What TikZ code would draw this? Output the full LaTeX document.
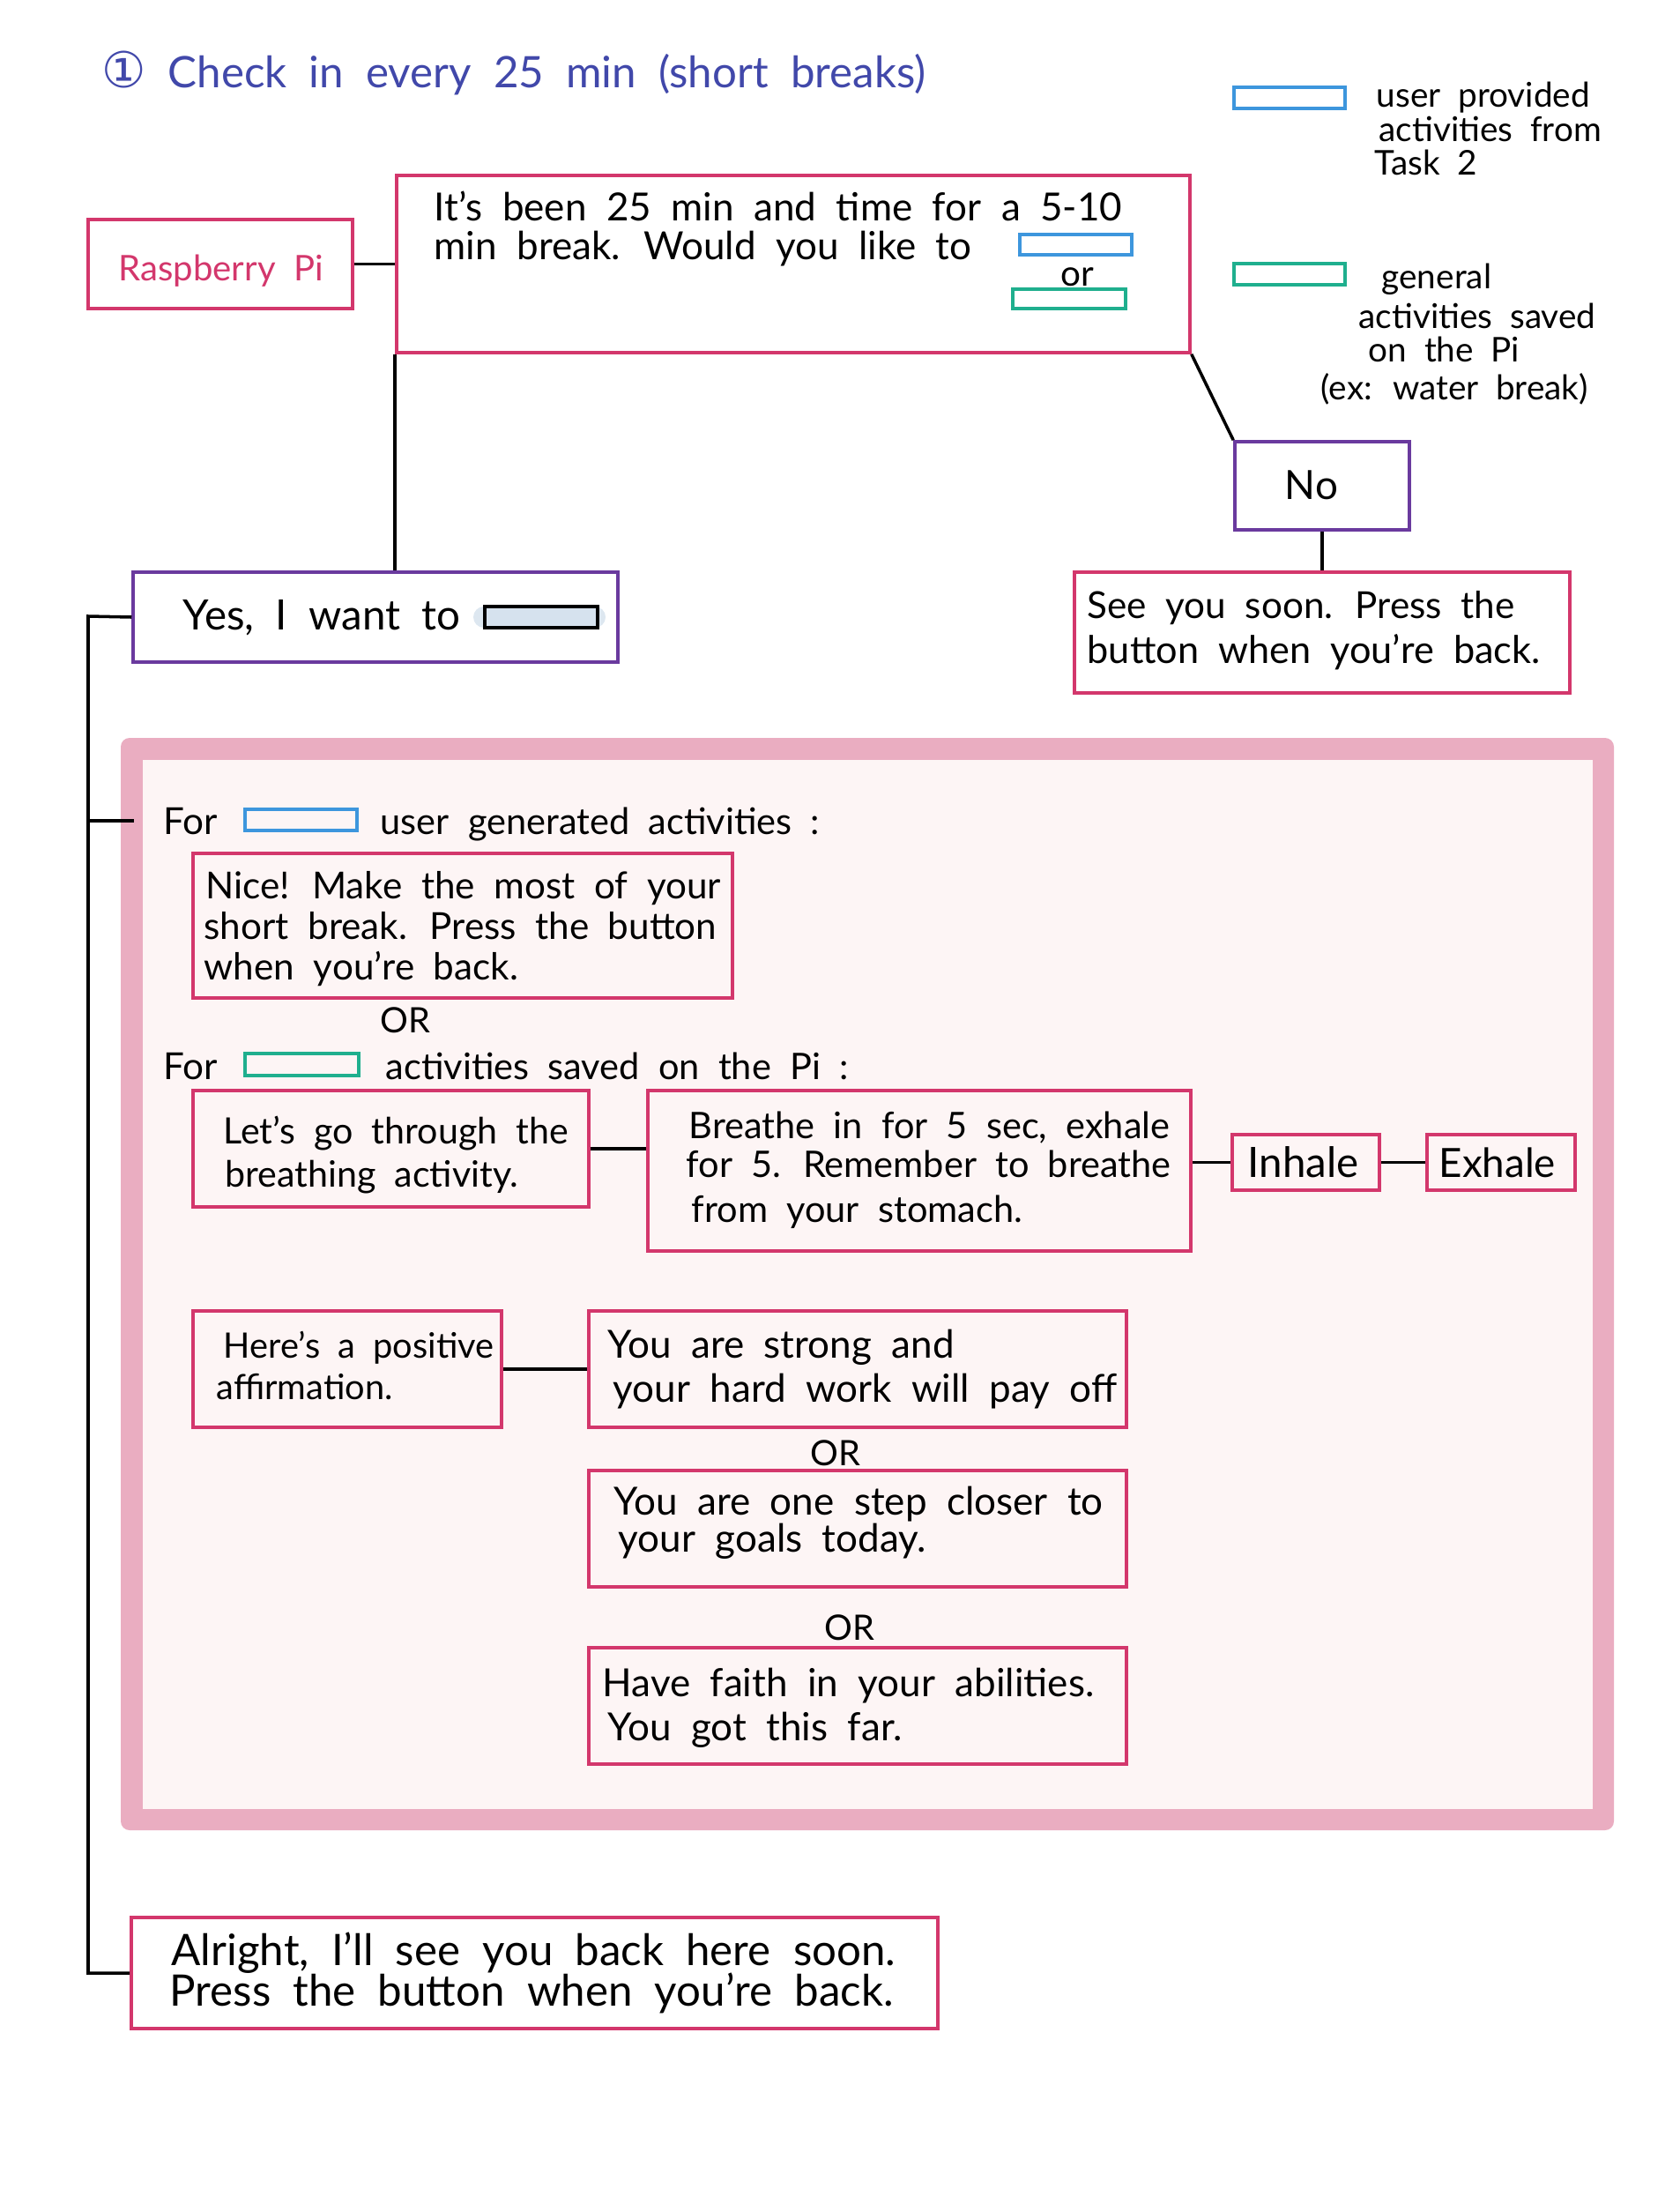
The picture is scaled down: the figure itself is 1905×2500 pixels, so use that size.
\documentclass[tikz,border=0pt]{standalone}
\usepackage{fontspec}
\setmainfont{Lato}[WordSpace=2]
\newfontfamily\symfont{DejaVu Sans}
\usetikzlibrary{fit}

\definecolor{boxpink}{HTML}{D3376C}
\definecolor{boxpurple}{HTML}{6A3A9E}
\definecolor{keyblue}{HTML}{3D96DD}
\definecolor{keyteal}{HTML}{1FAF8E}
\definecolor{titleblue}{HTML}{4148AA}
\definecolor{panelpink}{HTML}{EAADC1}
\definecolor{panelfill}{HTML}{FDF5F5}
\definecolor{slotfill}{HTML}{D6E2EE}
\definecolor{slothalo}{HTML}{DDE7F0}

\begin{document}
\begin{tikzpicture}[x=0.01cm, y=-0.01cm,
  frame/.style={inner sep=0pt, line width=1pt},
  pinkbox/.style={frame, draw=boxpink},
  purplebox/.style={frame, draw=boxpurple},
  keyslot/.style={inner sep=0pt, line width=1pt},
  link/.style={line width=1pt, draw=black},
  sz/.style={font=\fontsize{#1}{#1}\selectfont},
  txt/.style={anchor=mid west, inner sep=0pt, yshift=-0.07cm, sz=12.5},
  keytxt/.style={txt, sz=11},
  bigtxt/.style={txt, sz=14},
]
\useasboundingbox (0,0) rectangle (1905,2500);

% heading
\node[txt, text=titleblue, sz=14] (title) at (115,84)
  {{\symfont\fontsize{16}{16}\selectfont ①}\enspace Check in every 25 min (short breaks)};

% legend
\node[keyslot, draw=keyblue, fit={(1400,99) (1526,123)}] (keyblue) {};
\node[keytxt] (kb1) at (1561,106) {user provided};
\node[keytxt] (kb2) at (1564,145) {activities from};
\node[keytxt] (kb3) at (1559,183) {Task 2};
\node[keyslot, draw=keyteal, fit={(1400,299) (1526,323)}] (keyteal) {};
\node[keytxt] (kt1) at (1567,312) {general};
\node[keytxt] (kt2) at (1541,357) {activities saved};
\node[keytxt] (kt3) at (1552,395) {on the Pi};
\node[keytxt] (kt4) at (1498,438) {(ex: water break)};

% device and prompt
\node[pinkbox, fit={(100,249) (400,350)}] (rpi) {};
\node[txt, sz=11.4, text=boxpink] (rpitxt) at (134,303) {Raspberry Pi};
\node[pinkbox, fit={(450,199) (1350,400)}] (ask) {};
\node[txt] (ask1) at (492,235) {It’s been 25 min and time for a 5-10};
\node[txt] (ask2) at (492,279) {min break. Would you like to};
\node[keyslot, draw=keyblue, fit={(1157,266) (1284,289)}] (askblue) {};
\node[txt, sz=11.5] (askor) at (1203,309) {or};
\node[keyslot, draw=keyteal, fit={(1149,328) (1277,350)}] (askteal) {};

% "no" branch
\node[purplebox, fit={(1401,501) (1599,601)}] (no) {};
\node[txt, anchor=mid, sz=13] (notxt) at (1488,551) {No};
\node[pinkbox, fit={(1219,649) (1781,786)}] (soon) {};
\node[txt, sz=12] (soon1) at (1233,686) {See you soon. Press the};
\node[txt, sz=12.3] (soon2) at (1233,737) {button when you’re back.};

% "yes" branch
\node[purplebox, fit={(151,649) (701,751)}] (yes) {};
\node[bigtxt, sz=13.5] (yestxt) at (207,699) {Yes, I want to};
\node[inner sep=0pt, fill=slothalo, rounded corners=0.12cm, fit={(537,688) (687,712)}] (halo) {};
\node[inner sep=0pt, fill=slotfill, draw=black, line width=1pt, fit={(550,688) (678,712)}] (slot) {};

% activity panel
\node[inner sep=0pt, fill=panelpink, rounded corners=0.1cm, fit={(137,837) (1831,2076)}] (panel) {};
\node[inner sep=0pt, fill=panelfill, fit={(162,862) (1807,2052)}] (panelin) {};

\node[txt, sz=12] (forA) at (185,931) {For};
\node[keyslot, draw=keyblue, fit={(278,918) (405,942)}] (forAkey) {};
\node[txt, sz=11.8] (forAtxt) at (431,931) {user generated activities :};

\node[pinkbox, fit={(219,968) (831,1132)}] (nice) {};
\node[txt, sz=12] (nice1) at (233,1004) {Nice! Make the most of your};
\node[txt, sz=12] (nice2) at (231,1050) {short break. Press the button};
\node[txt, sz=12] (nice3) at (231,1096) {when you’re back.};
\node[txt, anchor=mid, sz=11.3] (or1) at (460,1156) {OR};

\node[txt, sz=12] (forB) at (185,1209) {For};
\node[keyslot, draw=keyteal, fit={(278,1195) (407,1220)}] (forBkey) {};
\node[txt, sz=11.8] (forBtxt) at (437,1209) {activities saved on the Pi :};

\node[pinkbox, fit={(219,1237) (668,1369)}] (lets) {};
\node[txt, sz=11.7] (lets1) at (253,1282) {Let’s go through the};
\node[txt, sz=11.7] (lets2) at (255,1331) {breathing activity.};

\node[pinkbox, fit={(735,1237) (1351,1419)}] (breathe) {};
\node[txt, sz=11.8] (br1) at (781,1276) {Breathe in for 5 sec, exhale};
\node[txt, sz=11.8] (br2) at (778,1320) {for 5. Remember to breathe};
\node[txt, sz=11.8] (br3) at (784,1371) {from your stomach.};

\node[pinkbox, fit={(1398,1287) (1565,1350)}] (inhale) {};
\node[txt, sz=13.5] (inhtxt) at (1415,1320) {Inhale};
\node[pinkbox, fit={(1619,1287) (1787,1350)}] (exhale) {};
\node[txt, sz=13] (exhtxt) at (1632,1320) {Exhale};

\node[pinkbox, fit={(219,1487) (569,1619)}] (heres) {};
\node[txt, sz=11.3] (he1) at (253,1525) {Here’s a positive};
\node[txt, sz=11.3] (he2) at (245,1572) {affirmation.};

\node[pinkbox, fit={(668,1487) (1278,1619)}] (strong) {};
\node[txt] (st1) at (689,1525) {You are strong and};
\node[txt] (st2) at (695,1575) {your hard work will pay off};
\node[txt, anchor=mid, sz=11.3] (or2) at (948,1647) {OR};

\node[pinkbox, fit={(668,1668) (1278,1800)}] (closer) {};
\node[txt] (cl1) at (696,1703) {You are one step closer to};
\node[txt] (cl2) at (701,1745) {your goals today.};
\node[txt, anchor=mid, sz=11.3] (or3) at (964,1845) {OR};

\node[pinkbox, fit={(668,1869) (1278,2001)}] (faith) {};
\node[txt] (fa1) at (683,1909) {Have faith in your abilities.};
\node[txt] (fa2) at (689,1959) {You got this far.};

% closing message
\node[pinkbox, fit={(149,2175) (1064,2301)}] (alright) {};
\node[bigtxt] (al1) at (194,2214) {Alright, I’ll see you back here soon.};
\node[bigtxt] (al2) at (192,2260) {Press the button when you’re back.};

% connectors
\coordinate (trunk) at (100,699);
\coordinate (stubend) at (152,931);
\draw[link] (rpi.east) -- (rpi.east -| ask.west);
\draw[link] (ask.south west) -- (ask.south west |- yes.north);
\draw[link] (ask.south east) -- (no.north west);
\draw[link] (no.south) -- (no.south |- soon.north);
\draw[link] (yes.west) -- (trunk) |- (alright.west);
\draw[link] (trunk |- stubend) -- (stubend);
\draw[link] (lets.east) -- (lets.east -| breathe.west);
\draw[link] (breathe.east |- inhale.west) -- (inhale.west);
\draw[link] (inhale.east) -- (exhale.west);
\draw[link] (heres.east) -- (strong.west);
\end{tikzpicture}
\end{document}
